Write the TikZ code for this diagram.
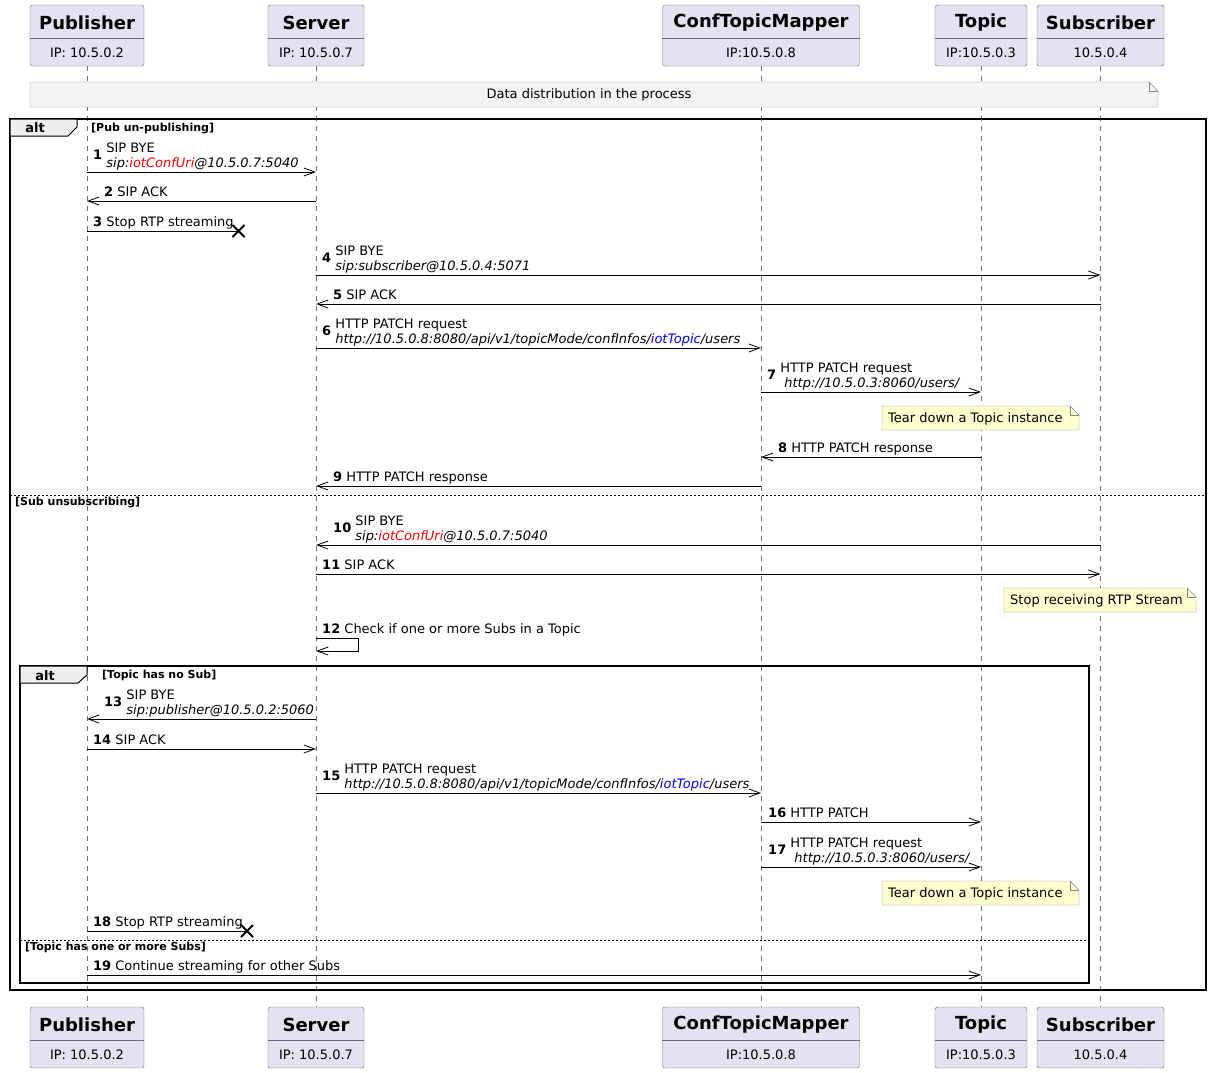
\documentclass[tikz,border=0pt]{standalone}
\usepackage{fontspec}
\setmainfont{DejaVu Sans}
\usetikzlibrary{arrows.meta}
\definecolor{partfill}{HTML}{E2E2F0}
\definecolor{partline}{HTML}{6E6E76}
\definecolor{lifeline}{HTML}{707070}
\definecolor{notefill}{HTML}{FEFECE}
\definecolor{datafill}{HTML}{F4F4F4}
\definecolor{noteline}{HTML}{85857A}
\definecolor{grpfill}{HTML}{EEEEEE}
\newcommand{\ml}[1]{\begin{tabular}[c]{@{}l@{}}#1\end{tabular}}
\newcommand{\participant}[6]{%
  \node[partbox, minimum width=#4pt] (#1) at (#2,#3+30.5) {};
  \draw[partline] (#1.west |- 0,#3+33) -- (#1.east |- 0,#3+33);
  \node[parttitle] (#1-t) at (#2,#3+17.5) {#5};
  \node[partip] (#1-ip) at (#2,#3+47.5) {#6};}
\newcommand{\notebox}[5]{%
  \draw[draw=noteline, fill=#5] (#1,#2) -- (#3-9,#2) -- (#3,#2+9) -- (#3,#4) -- (#1,#4) -- cycle;
  \draw[draw=noteline] (#3-9,#2) -- (#3-9,#2+9) -- (#3,#2+9);}
\begin{document}
\begin{tikzpicture}[x=1pt, y=-1pt,
    every node/.style={inner sep=0pt},
    partbox/.style={draw=partline, fill=partfill, rounded corners=2.5pt, minimum height=61pt},
    parttitle/.style={font=\fontsize{18}{20}\selectfont\bfseries},
    partip/.style={font=\fontsize{13}{15}\selectfont},
    life/.style={draw=lifeline, line width=0.7pt, dash pattern=on 5pt off 5pt},
    msg/.style={line width=0.8pt, -{Straight Barb[length=11pt,width=8pt]}},
    lost/.style={line width=0.8pt},
    cross/.style={line width=1.8pt},
    lbl/.style={anchor=south west, yshift=-1.5pt, font=\fontsize{13}{15.5}\selectfont},
    frame/.style={line width=1.5pt},
    tab/.style={line width=1pt, fill=grpfill},
    tabtxt/.style={font=\fontsize{13}{15}\selectfont\bfseries},
    guard/.style={anchor=west, font=\fontsize{11}{13}\selectfont\bfseries},
    sep/.style={line width=0.8pt, dash pattern=on 2pt off 2pt},
    notetxt/.style={font=\fontsize{13}{15}\selectfont}]
  \useasboundingbox (0,0) rectangle (1212,1072);

  \participant{pub}{87}{5}{114}{Publisher}{IP: 10.5.0.2}
  \participant{srv}{316}{5}{96}{Server}{IP: 10.5.0.7}
  \participant{ctm}{761}{5}{197}{ConfTopicMapper}{IP:10.5.0.8}
  \participant{tpc}{981}{5}{92}{Topic}{IP:10.5.0.3}
  \participant{sub}{1100.5}{5}{127}{Subscriber}{10.5.0.4}
  \participant{pub-b}{87}{1007}{114}{Publisher}{IP: 10.5.0.2}
  \participant{srv-b}{316}{1007}{96}{Server}{IP: 10.5.0.7}
  \participant{ctm-b}{761}{1007}{197}{ConfTopicMapper}{IP:10.5.0.8}
  \participant{tpc-b}{981}{1007}{92}{Topic}{IP:10.5.0.3}
  \participant{sub-b}{1100.5}{1007}{127}{Subscriber}{10.5.0.4}
  \foreach \p in {pub,srv,ctm,tpc,sub}
    \draw[life] (\p.south) -- (\p-b.north);

  \notebox{30}{82}{1158}{107}{datafill}
  \node[notetxt] (dist) at (589,95) {Data distribution in the process};

  \draw[frame] (10,119) rectangle (1206,990);
  \draw[tab] (10,119) -- (77,119) -- (77,127) -- (68,136) -- (10,136) -- cycle;
  \node[tabtxt] (alt1) at (35,128) {alt};
  \node[guard] (g1) at (91,128.5) {[Pub un-publishing]};

  \draw[msg] (pub |- 0,172) -- (srv |- 0,172);
  \node[lbl] (t1) at (93,171) {\textbf{1} \ml{SIP BYE\\\textit{sip:\textcolor{red}{iotConfUri}@10.5.0.7:5040}}};
  \draw[msg] (srv |- 0,201) -- (pub |- 0,201);
  \node[lbl] (t2) at (104,200) {\textbf{2} \ml{SIP ACK}};
  \coordinate (x3) at (238.5,231);
  \draw[lost] (pub |- x3) -- (x3);
  \draw[cross] ([shift={(-6pt,-6pt)}]x3) -- ([shift={(6pt,6pt)}]x3)
    ([shift={(-6pt,6pt)}]x3) -- ([shift={(6pt,-6pt)}]x3);
  \node[lbl] (t3) at (93,230) {\textbf{3} \ml{Stop RTP streaming}};
  \draw[msg] (srv |- 0,275) -- (sub |- 0,275);
  \node[lbl] (t4) at (322,274) {\textbf{4} \ml{SIP BYE\\\textit{sip:subscriber@10.5.0.4:5071}}};
  \draw[msg] (sub |- 0,304) -- (srv |- 0,304);
  \node[lbl] (t5) at (333,303) {\textbf{5} \ml{SIP ACK}};
  \draw[msg] (srv |- 0,348) -- (ctm |- 0,348);
  \node[lbl] (t6) at (322,347) {\textbf{6} \ml{HTTP PATCH request\\\textit{http://10.5.0.8:8080/api/v1/topicMode/confInfos/\textcolor{blue}{iotTopic}/users}}};
  \draw[msg] (ctm |- 0,392) -- (tpc |- 0,392);
  \node[lbl] (t7) at (767,391) {\textbf{7} \ml{HTTP PATCH request\\\hspace*{4pt}\textit{http://10.5.0.3:8060/users/}}};
  \notebox{882}{406}{1079}{430}{notefill}
  \node[notetxt, anchor=west] (n1) at (888,419) {Tear down a Topic instance};
  \draw[msg] (tpc |- 0,457) -- (ctm |- 0,457);
  \node[lbl] (t8) at (778,456) {\textbf{8} \ml{HTTP PATCH response}};
  \draw[msg] (ctm |- 0,486) -- (srv |- 0,486);
  \node[lbl] (t9) at (333,485) {\textbf{9} \ml{HTTP PATCH response}};

  \draw[sep] (10,495) -- (1206,495);
  \node[guard] (g2) at (15,502.5) {[Sub unsubscribing]};

  \draw[msg] (sub |- 0,545) -- (srv |- 0,545);
  \node[lbl] (t10) at (333,544) {\textbf{10} \ml{SIP BYE\\\textit{sip:\textcolor{red}{iotConfUri}@10.5.0.7:5040}}};
  \draw[msg] (srv |- 0,574) -- (sub |- 0,574);
  \node[lbl] (t11) at (322,573) {\textbf{11} \ml{SIP ACK}};
  \notebox{1004}{588}{1196}{612}{notefill}
  \node[notetxt, anchor=west] (n2) at (1010,601) {Stop receiving RTP Stream};
  \draw[msg] (srv |- 0,638) -- ++(42,0) -- ++(0,13) -- (srv |- 0,651);
  \node[lbl] (t12) at (322,637) {\textbf{12} \ml{Check if one or more Subs in a Topic}};

  \draw[frame] (20,666) rectangle (1089,983);
  \draw[tab] (20,666) -- (87,666) -- (87,675) -- (78,683) -- (20,683) -- cycle;
  \node[tabtxt] (alt2) at (45,675.5) {alt};
  \node[guard] (g3) at (102,675.5) {[Topic has no Sub]};

  \draw[msg] (srv |- 0,719) -- (pub |- 0,719);
  \node[lbl] (t13) at (104,718) {\textbf{13} \ml{SIP BYE\\\textit{sip:publisher@10.5.0.2:5060}}};
  \draw[msg] (pub |- 0,749) -- (srv |- 0,749);
  \node[lbl] (t14) at (93,748) {\textbf{14} \ml{SIP ACK}};
  \draw[msg] (srv |- 0,793) -- (ctm |- 0,793);
  \node[lbl] (t15) at (322,792) {\textbf{15} \ml{HTTP PATCH request\\\textit{http://10.5.0.8:8080/api/v1/topicMode/confInfos/\textcolor{blue}{iotTopic}/users}}};
  \draw[msg] (ctm |- 0,822) -- (tpc |- 0,822);
  \node[lbl] (t16) at (768,821) {\textbf{16} \ml{HTTP PATCH}};
  \draw[msg] (ctm |- 0,867) -- (tpc |- 0,867);
  \node[lbl] (t17) at (768,866) {\textbf{17} \ml{HTTP PATCH request\\\hspace*{4pt}\textit{http://10.5.0.3:8060/users/}}};
  \notebox{882}{881}{1079}{905}{notefill}
  \node[notetxt, anchor=west] (n3) at (888,894) {Tear down a Topic instance};
  \coordinate (x18) at (247,931);
  \draw[lost] (pub |- x18) -- (x18);
  \draw[cross] ([shift={(-6pt,-6pt)}]x18) -- ([shift={(6pt,6pt)}]x18)
    ([shift={(-6pt,6pt)}]x18) -- ([shift={(6pt,-6pt)}]x18);
  \node[lbl] (t18) at (93,930) {\textbf{18} \ml{Stop RTP streaming}};

  \draw[sep] (20,940) -- (1089,940);
  \node[guard] (g4) at (25,947.5) {[Topic has one or more Subs]};
  \draw[msg] (pub |- 0,975) -- (tpc |- 0,975);
  \node[lbl] (t19) at (93,974) {\textbf{19} \ml{Continue streaming for other Subs}};
\end{tikzpicture}
\end{document}
